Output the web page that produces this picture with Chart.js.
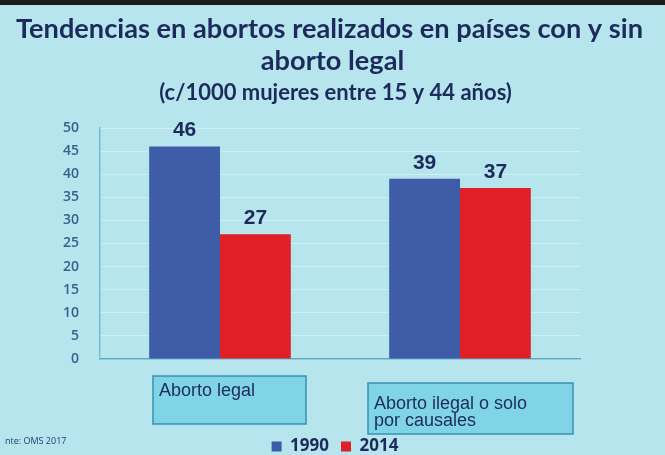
<!DOCTYPE html>
<html>
<head>
<meta charset="utf-8">
<script src="https://cdn.jsdelivr.net/npm/chart.js@4"></script>
<style>
    html, body { margin: 0; padding: 0; background: #b6e5ee; }
    #wrap { width: 665px; height: 455px; position: relative; }
</style>
</head>
<body>
<div id="wrap"><canvas id="chart" width="665" height="455"></canvas></div>
<script>
( function () {
    'use strict';

    // values
    var categories = [ 'Aborto legal', 'Aborto ilegal o solo por causales' ];
    var categoryLines = [ [ 'Aborto legal' ], [ 'Aborto ilegal o solo', 'por causales' ] ];
    var seriesNames = [ '1990', '2014' ];
    var values1990 = [ 46, 39 ];
    var values2014 = [ 27, 37 ];
    var yTicks = [ 0, 5, 10, 15, 20, 25, 30, 35, 40, 45, 50 ];
    var titleLines = [ 'Tendencias en abortos realizados en países con y sin', 'aborto legal' ];
    var subtitle = '(c/1000 mujeres entre 15 y 44 años)';
    var source = 'nte: OMS 2017';

    var navy = '#1c2a5c';

    /* ── background, title, value labels, category boxes, source ──────── */
    var slidePlugin = {
        id: 'slide',
        beforeDraw: function ( chart ) {
            var ctx = chart.ctx;
            ctx.save();
            ctx.fillStyle = '#b6e5ee';
            ctx.fillRect( 0, 0, chart.width, chart.height );
            ctx.fillStyle = '#1c1c1c';
            ctx.fillRect( 0, 0, chart.width, 5 );

            var cx = chart.width / 2;
            ctx.fillStyle = navy;
            ctx.textAlign = 'center';
            ctx.textBaseline = 'middle';
            ctx.font = 'bold 27.2px Lato, sans-serif';
            ctx.fillText( titleLines[ 0 ], cx - 3, 29 );
            ctx.fillText( titleLines[ 1 ], cx, 61 );
            ctx.font = 'bold 22px Lato, sans-serif';
            ctx.fillText( subtitle, cx + 3, 93 );
            ctx.restore();
        },
        afterDatasetsDraw: function ( chart ) {
            var ctx = chart.ctx;
            ctx.save();
            ctx.font = 'bold 21px "Liberation Sans", Arial, sans-serif';
            ctx.fillStyle = navy;
            ctx.textAlign = 'center';
            ctx.textBaseline = 'middle';
            chart.data.datasets.forEach( function ( ds, di ) {
                chart.getDatasetMeta( di ).data.forEach( function ( bar, i ) {
                    ctx.fillText( String( ds.data[ i ] ), bar.x, bar.y - 16 );
                } );
            } );
            ctx.restore();
        },
        afterDraw: function ( chart ) {
            var ctx = chart.ctx;
            var x = chart.scales.x;
            var bottom = chart.chartArea.bottom;
            // box shapes relative to category centre
            var boxes = [
                { dx: -67, dy: 17, w: 153, h: 48 },
                { dx: -92, dy: 24, w: 205, h: 51 },
            ];
            ctx.save();
            categories.forEach( function ( c, i ) {
                var cx = x.getPixelForValue( i );
                var b = boxes[ i ];
                var left = cx + b.dx;
                var top = bottom + b.dy;
                ctx.fillStyle = '#7fd5e5';
                ctx.fillRect( left, top, b.w, b.h );
                ctx.strokeStyle = '#3b8fb3';
                ctx.lineWidth = 1.5;
                ctx.strokeRect( left, top, b.w, b.h );
                ctx.fillStyle = navy;
                ctx.font = '18px "Liberation Sans", Arial, sans-serif';
                ctx.textAlign = 'left';
                ctx.textBaseline = 'alphabetic';
                categoryLines[ i ].forEach( function ( line, li ) {
                    ctx.fillText( line, left + 6, top + 20 + li * 17 + ( i === 1 ? 6 : 0 ) );
                } );
            } );
            ctx.font = '9px "Open Sans", sans-serif';
            ctx.fillStyle = '#23406e';
            ctx.textBaseline = 'middle';
            ctx.fillText( source, 5, 441 );
            ctx.restore();
        },
    };

    new Chart( document.getElementById( 'chart' ), {
        type: 'bar',
        data: {
            labels: categories,
            datasets: [ {
                label:           seriesNames[ 0 ],
                data:            values1990,
                backgroundColor: '#3f5ca9',
                yAxisID:         'y',
            }, {
                label:           seriesNames[ 1 ],
                data:            values2014,
                backgroundColor: '#e11f27',
                yAxisID:         'y',
            } ],
        },
        plugins: [ slidePlugin ],
        options: {
            responsive:          false,
            animation:           false,
            categoryPercentage:  0.59,
            barPercentage:       1,
            layout: { padding: { left: 58, right: 53, top: 128, bottom: -10 } },
            plugins: {
                title:    { display: false },
                subtitle: { display: false },
                legend: {
                    position: 'bottom',
                    labels: {
                        color:     navy,
                        font:      { family: '"Open Sans"', size: 17, weight: 'bold' },
                        boxWidth:  10,
                        boxHeight: 10,
                        padding:   12,
                    },
                },
                tooltip: { enabled: false },
            },
            scales: {
                x: {
                    grid:   { display: false },
                    border: { color: '#5aa9c4', width: 1.5 },
                    ticks:  { display: false },
                    afterFit: function ( s ) { s.height = 67; },
                },
                y: {
                    min: 0,
                    max: 50,
                    afterBuildTicks: function ( s ) {
                        s.ticks = yTicks.map( function ( v ) { return { value: v }; } );
                    },
                    afterFit: function ( s ) { s.width = 42; },
                    grid:   { color: 'rgba(255,255,255,0.35)', drawTicks: false },
                    border: { color: '#6cc3d6', width: 1.5 },
                    ticks:  {
                        color:   '#3a5e8e',
                        padding: 21,
                        font:    { family: '"Open Sans"', size: 14, weight: '600' },
                    },
                },
                // empty right-hand spacer so the plot stops where the slide's does
                spacer: {
                    type:     'linear',
                    position: 'right',
                    grid:     { display: false },
                    border:   { display: false },
                    ticks:    { display: false },
                    afterFit: function ( s ) { s.width = 32; },
                },
            },
        },
    } );

} )();
</script>
</body>
</html>
